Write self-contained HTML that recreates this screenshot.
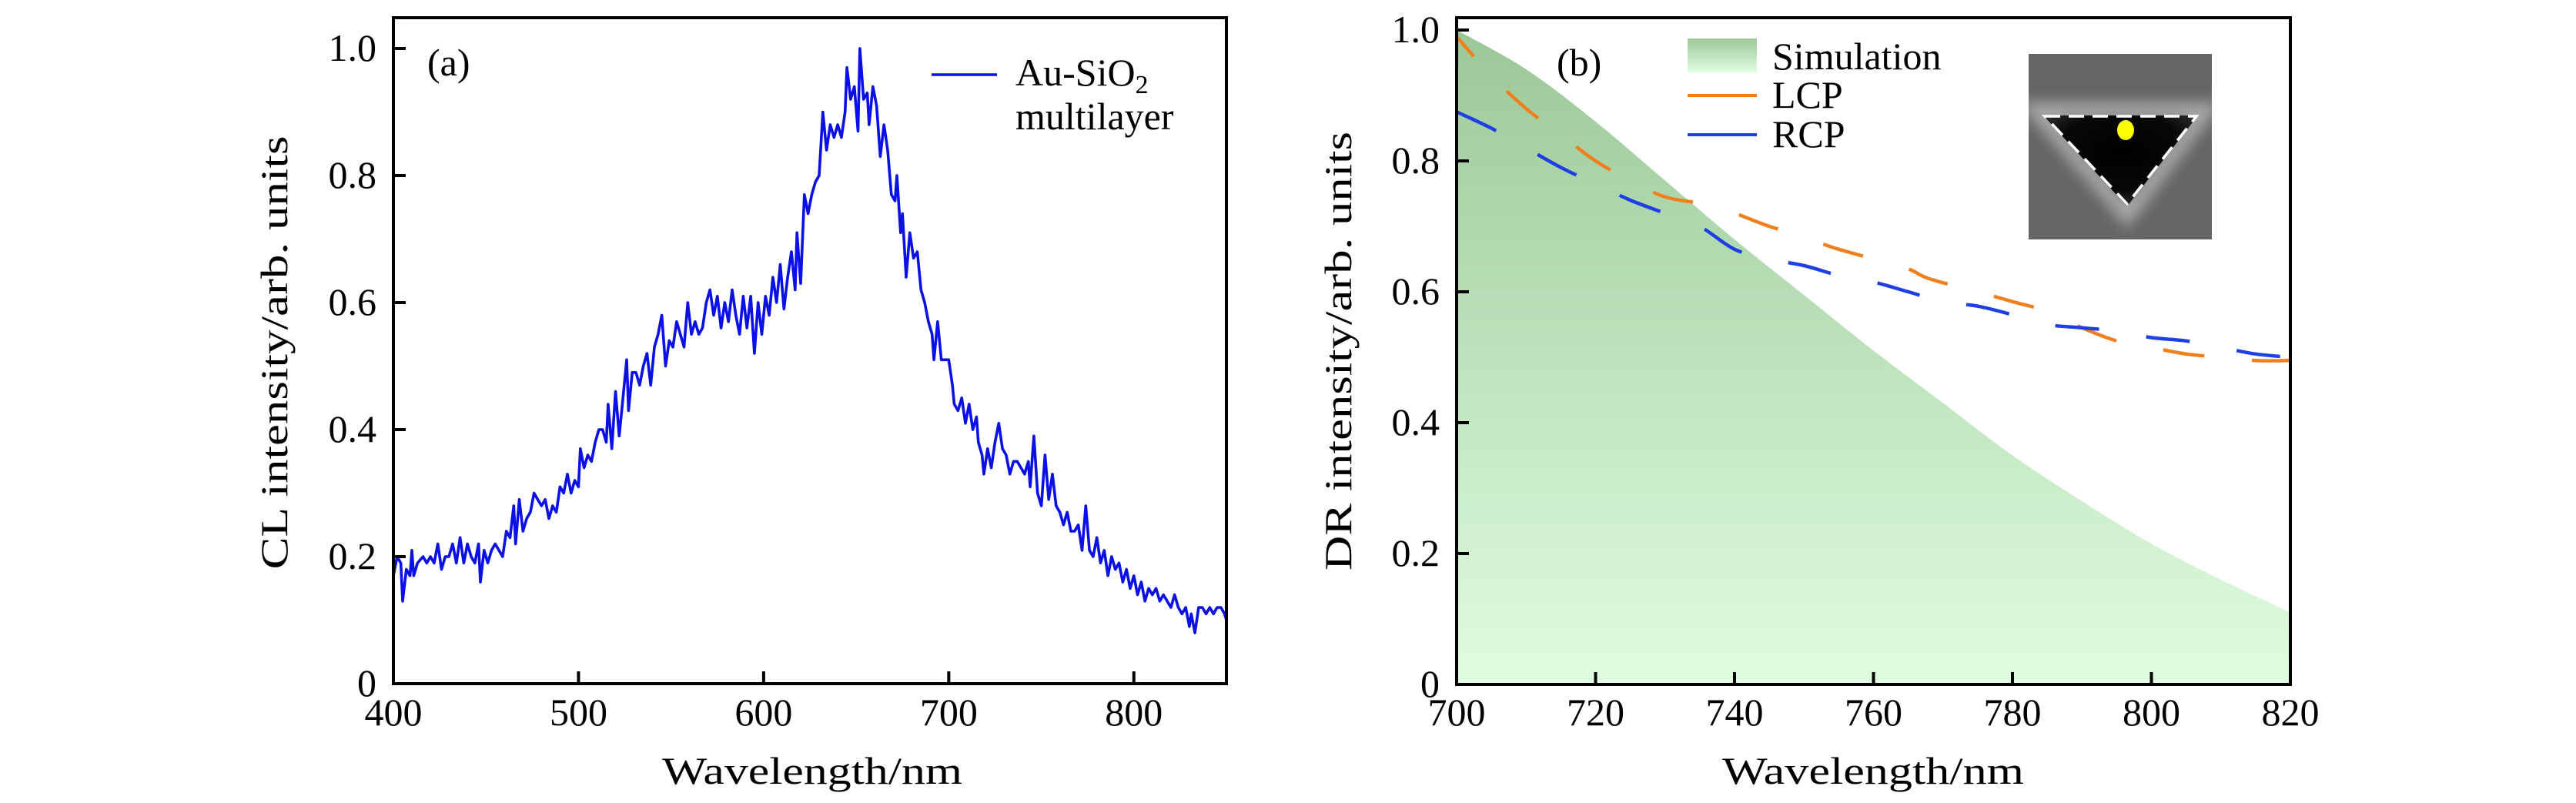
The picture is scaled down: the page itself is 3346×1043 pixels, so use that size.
<!DOCTYPE html>
<html><head><meta charset="utf-8">
<style>
html,body{margin:0;padding:0;background:#fff;}
svg{display:block;font-family:"Liberation Serif",serif;}
</style></head>
<body>
<svg id="fig" width="3346" height="1043" viewBox="0 0 3346 1043" xmlns="http://www.w3.org/2000/svg">
<defs>
<linearGradient id="simGrad" gradientUnits="userSpaceOnUse" x1="0" y1="39" x2="0" y2="889">
<stop offset="0" stop-color="#9bc898"/><stop offset="1" stop-color="#e0fde0"/>
</linearGradient>
<linearGradient id="legGrad" x1="0" y1="0" x2="0" y2="1">
<stop offset="0" stop-color="#9bc898"/><stop offset="1" stop-color="#e0fde0"/>
</linearGradient>
<radialGradient id="holeGrad" cx="0.5" cy="0.4" r="0.6">
<stop offset="0" stop-color="#000"/><stop offset="0.7" stop-color="#080808"/><stop offset="1" stop-color="#2a2a2a"/>
</radialGradient>
<filter id="blur6" x="-20%" y="-20%" width="140%" height="140%"><feGaussianBlur stdDeviation="9"/></filter>
<clipPath id="clipA"><rect x="511" y="23" width="1082" height="865"/></clipPath>
<clipPath id="clipB"><rect x="1892" y="23" width="1083" height="866"/></clipPath>
<clipPath id="clipInset"><rect x="2635" y="70" width="238" height="241"/></clipPath>
</defs>
<g id="panelA"></g>
<g id="panelB"></g>
</svg>
<script>
// ---------- Panel (a) data ----------
const clX = [400,402,404,405,407,409,410,411,413,416,418,420,422,424,426,428,430,432,434,436,438,440,442,444,446,447,449,451,453,455,457,459,461,463,465,466,468,470,472,474,476,478,480,482,484,486,488,490,492,494,496,498,500,501,503,505,507,509,511,513,515,516,518,520,522,524,526,527,529,531,533,535,537,539,541,543,545,547,549,551,553,555,557,559,561,563,565,567,569,571,573,575,577,579,581,583,585,587,589,591,593,595,597,599,601,603,605,607,609,611,613,615,617,618,620,622,624,626,628,630,632,634,636,638,640,642,644,645,647,649,651,652,654,656,657,659,661,663,665,667,669,671,672,674,675,677,679,681,683,685,687,689,691,692,694,696,698,700,702,703,705,707,709,711,713,715,716,718,719,721,723,725,727,729,731,733,735,737,739,741,743,744,746,748,750,752,754,756,758,760,762,764,766,768,770,772,774,776,778,780,782,784,786,788,790,792,794,796,798,800,802,804,806,808,810,812,814,816,818,820,822,824,826,828,830,831,833,835,837,839,841,843,845,847,849,850];
const clY = [0.17,0.20,0.19,0.13,0.18,0.17,0.21,0.17,0.19,0.20,0.19,0.20,0.19,0.22,0.18,0.20,0.20,0.22,0.19,0.23,0.19,0.22,0.20,0.19,0.22,0.16,0.21,0.19,0.21,0.22,0.21,0.20,0.24,0.23,0.28,0.22,0.29,0.24,0.26,0.27,0.30,0.29,0.28,0.29,0.26,0.28,0.27,0.31,0.30,0.33,0.30,0.32,0.31,0.37,0.34,0.36,0.35,0.38,0.40,0.40,0.38,0.44,0.37,0.46,0.39,0.45,0.51,0.43,0.49,0.49,0.47,0.50,0.52,0.47,0.53,0.55,0.58,0.50,0.54,0.53,0.57,0.55,0.53,0.60,0.55,0.57,0.55,0.56,0.60,0.62,0.58,0.61,0.56,0.60,0.57,0.62,0.58,0.55,0.61,0.56,0.61,0.52,0.60,0.55,0.61,0.58,0.64,0.60,0.66,0.59,0.64,0.68,0.62,0.71,0.63,0.77,0.74,0.77,0.79,0.80,0.90,0.84,0.88,0.86,0.88,0.86,0.90,0.97,0.92,0.94,0.87,1.00,0.92,0.93,0.88,0.94,0.91,0.83,0.88,0.84,0.77,0.76,0.80,0.71,0.74,0.64,0.71,0.67,0.68,0.62,0.60,0.57,0.55,0.51,0.57,0.51,0.51,0.51,0.47,0.44,0.43,0.45,0.41,0.44,0.40,0.42,0.38,0.36,0.33,0.37,0.34,0.38,0.41,0.37,0.36,0.33,0.35,0.35,0.34,0.33,0.35,0.31,0.39,0.30,0.28,0.36,0.29,0.33,0.28,0.27,0.25,0.27,0.24,0.24,0.25,0.21,0.28,0.21,0.20,0.23,0.19,0.21,0.17,0.20,0.18,0.19,0.16,0.18,0.15,0.17,0.14,0.16,0.13,0.15,0.14,0.15,0.13,0.14,0.13,0.12,0.14,0.12,0.11,0.12,0.09,0.11,0.08,0.12,0.12,0.11,0.12,0.11,0.12,0.12,0.11,0.10];
const aXTicks = [400,500,600,700,800];
const aYTicks = [0,0.2,0.4,0.6,0.8,1.0];
const aYTickLabels = ["0","0.2","0.4","0.6","0.8","1.0"];

// ---------- Panel (b) data ----------
const simX = [700,710,720,730,740,750,760,770,780,790,800,810,820];
const simY = [1.0,0.94,0.86,0.77,0.68,0.595,0.51,0.43,0.35,0.28,0.215,0.16,0.11];
const lcpX = [700,705,710,715,720,725,730,735,740,745,750,753,755,760,765,768,775,780,785,790,795,800,805,810,815,820];
const lcpY = [0.99,0.93,0.88,0.84,0.80,0.77,0.745,0.735,0.72,0.70,0.685,0.672,0.665,0.65,0.635,0.62,0.60,0.585,0.57,0.545,0.525,0.515,0.505,0.50,0.495,0.495];
const rcpX = [700,705,710,715,720,725,730,735,740,745,750,755,760,765,770,775,780,785,790,795,800,805,810,815,820];
const rcpY = [0.875,0.85,0.82,0.79,0.765,0.74,0.72,0.70,0.665,0.65,0.64,0.625,0.615,0.60,0.585,0.578,0.565,0.55,0.545,0.54,0.53,0.525,0.515,0.505,0.50];
const bXTicks = [700,720,740,760,780,800,820];
const bYTicks = [0,0.2,0.4,0.6,0.8,1.0];
const bYTickLabels = ["0","0.2","0.4","0.6","0.8","1.0"];

const NS = "http://www.w3.org/2000/svg";
function mk(tag, parent, attrs, text){
  const e = document.createElementNS(NS, tag);
  for (const k in attrs) e.setAttribute(k, attrs[k]);
  if (text !== undefined) e.textContent = text;
  parent.appendChild(e);
  return e;
}
function scale(d0,d1,r0,r1){ return v => r0 + (v-d0)/(d1-d0)*(r1-r0); }

// ===== Panel A =====
const A = document.getElementById('panelA');
const ax = scale(400,850,511,1593);
const ay = scale(0,1,888,63);
let d = clX.map((x,i)=>(i?'L':'M')+ax(x).toFixed(1)+','+ay(clY[i]).toFixed(1)).join('');
const specLine = mk('path', A, {d:d, fill:'none', stroke:'#0a10e6', 'stroke-width':3.6, 'stroke-linejoin':'round', 'clip-path':'url(#clipA)'});


aXTicks.forEach(t=>{
  const tk = mk('line', A, {x1:ax(t), x2:ax(t), y1:888, y2:872, stroke:'#000','stroke-width':4});
  
  
  const lb = mk('text', A, {x:ax(t), y:942, 'font-size':50, 'text-anchor':'middle'}, String(t));
  
  
});
aYTicks.forEach((t,i)=>{
  const tk = mk('line', A, {x1:511, x2:527, y1:ay(t), y2:ay(t), stroke:'#000','stroke-width':4});
  
  
  const lb = mk('text', A, {x:489, y:ay(t)+16, 'font-size':50, 'text-anchor':'end'}, aYTickLabels[i]);
  
  
});
const frameA = mk('rect', A, {x:511, y:23, width:1082, height:865, fill:'none', stroke:'#000', 'stroke-width':4});


const labA = mk('text', A, {x:555, y:98, 'font-size':50}, '(a)');


const legLineA = mk('line', A, {x1:1210, x2:1295, y1:97, y2:97, stroke:'#0a10e6', 'stroke-width':3.6});


const legT1 = mk('text', A, {x:1319, y:111, 'font-size':50});


legT1.innerHTML = 'Au-SiO<tspan font-size="34" dy="10">2</tspan>';
const legT2 = mk('text', A, {x:1319, y:168, 'font-size':50}, 'multilayer');


const xtA = mk('text', A, {x:1055, y:1018, 'font-size':50, 'text-anchor':'middle', textLength:390, lengthAdjust:'spacingAndGlyphs'}, 'Wavelength/nm');


const ytA = mk('text', A, {x:0, y:0, 'font-size':50, 'text-anchor':'middle', textLength:563, lengthAdjust:'spacingAndGlyphs', transform:'translate(373,458) rotate(-90)'}, 'CL intensity/arb. units');



// ===== Panel B =====
const B = document.getElementById('panelB');
const bx = scale(700,820,1892,2975);
const by = scale(0,1,889,39);
function smoothPath(xs, ys, fx, fy){
  const P = xs.map((x,i)=>[fx(x), fy(ys[i])]);
  let s = 'M'+P[0][0].toFixed(1)+','+P[0][1].toFixed(1);
  for (let i=0;i<P.length-1;i++){
    const p0=P[Math.max(0,i-1)], p1=P[i], p2=P[i+1], p3=P[Math.min(P.length-1,i+2)];
    const c1=[p1[0]+(p2[0]-p0[0])/6, p1[1]+(p2[1]-p0[1])/6];
    const c2=[p2[0]-(p3[0]-p1[0])/6, p2[1]-(p3[1]-p1[1])/6];
    s += 'C'+c1[0].toFixed(1)+','+c1[1].toFixed(1)+' '+c2[0].toFixed(1)+','+c2[1].toFixed(1)+' '+p2[0].toFixed(1)+','+p2[1].toFixed(1);
  }
  return s;
}
const simPath = smoothPath(simX, simY, bx, by) + 'L'+bx(simX[simX.length-1])+','+by(0)+'L'+bx(simX[0])+','+by(0)+'Z';
const simArea = mk('path', B, {d:simPath, fill:'url(#simGrad)', 'clip-path':'url(#clipB)'});


const lcp = mk('path', B, {d:smoothPath(lcpX,lcpY,bx,by), fill:'none', stroke:'#f0801e', 'stroke-width':4.5, 'stroke-dasharray':'54 62', 'stroke-dashoffset':'20', 'clip-path':'url(#clipB)'});


const rcp = mk('path', B, {d:smoothPath(rcpX,rcpY,bx,by), fill:'none', stroke:'#1f3fe6', 'stroke-width':4.5, 'stroke-dasharray':'57 62', 'clip-path':'url(#clipB)'});


bXTicks.forEach(t=>{
  const tk = mk('line', B, {x1:bx(t), x2:bx(t), y1:889, y2:873, stroke:'#000','stroke-width':4});
  
  
  const lb = mk('text', B, {x:bx(t), y:942, 'font-size':50, 'text-anchor':'middle'}, String(t));
  
  
});
bYTicks.forEach((t,i)=>{
  const tk = mk('line', B, {x1:1892, x2:1908, y1:by(t), y2:by(t), stroke:'#000','stroke-width':4});
  
  
  const lb = mk('text', B, {x:1870, y:by(t)+16, 'font-size':50, 'text-anchor':'end'}, bYTickLabels[i]);
  
  
});
const frameB = mk('rect', B, {x:1892, y:23, width:1083, height:866, fill:'none', stroke:'#000', 'stroke-width':4});


const labB = mk('text', B, {x:2022, y:98, 'font-size':50}, '(b)');


const sw = mk('rect', B, {x:2192, y:50, width:90, height:44, fill:'url(#legGrad)'});


const st = mk('text', B, {x:2302, y:90, 'font-size':50}, 'Simulation');


const ll = mk('line', B, {x1:2192, x2:2282, y1:124, y2:124, stroke:'#f0801e', 'stroke-width':4});


const lt = mk('text', B, {x:2302, y:140, 'font-size':50}, 'LCP');


const rl = mk('line', B, {x1:2192, x2:2282, y1:175, y2:175, stroke:'#1f3fe6', 'stroke-width':4});


const rt = mk('text', B, {x:2302, y:191, 'font-size':50}, 'RCP');


// inset
const inset = mk('g', B, {'clip-path':'url(#clipInset)'});


mk('rect', inset, {x:2635, y:70, width:238, height:241, fill:'#656565'});
mk('polygon', inset, {points:'2646,144 2864,144 2763,278', fill:'none', stroke:'#a8a8a8', 'stroke-width':22, filter:'url(#blur6)'});
mk('polygon', inset, {points:'2654,150 2855,150 2763,268', fill:'url(#holeGrad)'});
mk('polygon', inset, {points:'2656,151 2853,151 2763,265', fill:'none', stroke:'#fff', 'stroke-width':3.5, 'stroke-dasharray':'20 11'});
mk('ellipse', inset, {cx:2761, cy:169, rx:11, ry:13, fill:'#ffff00'});
const xtB = mk('text', B, {x:2433, y:1018, 'font-size':50, 'text-anchor':'middle', textLength:392, lengthAdjust:'spacingAndGlyphs'}, 'Wavelength/nm');


const ytB = mk('text', B, {x:0, y:0, 'font-size':50, 'text-anchor':'middle', textLength:570, lengthAdjust:'spacingAndGlyphs', transform:'translate(1755,456) rotate(-90)'}, 'DR intensity/arb. units');


</script>
</body></html>
